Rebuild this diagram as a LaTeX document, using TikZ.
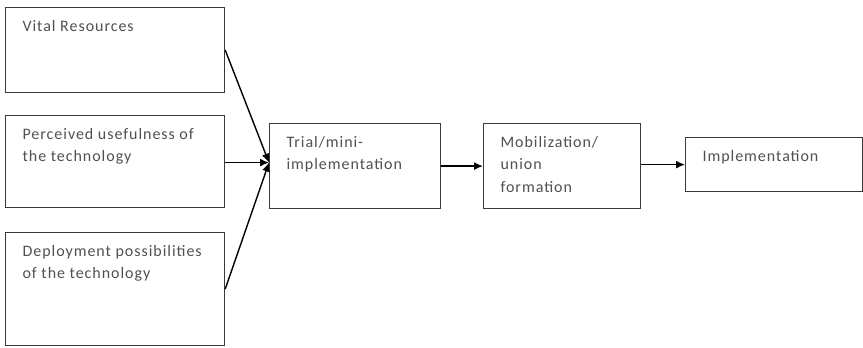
\documentclass[tikz,border=0pt]{standalone}
\usepackage{fontspec}
\setmainfont{Carlito}[LetterSpace=6]
\usetikzlibrary{arrows.meta}
\definecolor{txtgray}{HTML}{505050}
\definecolor{boxline}{HTML}{3A3A3A}
\newcommand{\boxtxt}[3]{\parbox[t][#2][t]{#1}{\raggedright\rule{0pt}{23.5pt}#3}}
\begin{document}
\begin{tikzpicture}[x=1pt,y=-1pt,
  box/.style={draw=boxline, line width=1.2pt, inner xsep=17pt, inner ysep=0pt,
    anchor=north west, font=\fontsize{16}{22.5}\selectfont, text=txtgray},
  arr/.style={draw=black, line width=1.4pt, -{Latex[length=9pt,width=8pt]}}]
\useasboundingbox (0,0) rectangle (863,348);
\node[box] (b1) at (5,7) {\boxtxt{185pt}{85pt}{Vital Resources}};
\node[box] (b2) at (5,115) {\boxtxt{185pt}{92pt}{Perceived usefulness of\\the technology}};
\node[box] (b3) at (5,232) {\boxtxt{185pt}{113pt}{Deployment possibilities\\of the technology}};
\node[box] (trial) at (269,123) {\boxtxt{137pt}{85pt}{Trial/mini-\\implementation}};
\node[box] (mob) at (483,123) {\boxtxt{123pt}{85pt}{Mobilization/\\union\\formation}};
\node[box] (impl) at (685,137) {\boxtxt{143pt}{54pt}{Implementation}};
\coordinate (in) at ([yshift=3.5pt]trial.west);
\draw[arr] (b1.east) -- (in);
\draw[arr] (b2.east |- in) -- (in);
\draw[arr] (b3.east) -- (in);
\draw[arr] (trial.east) -- (mob.west);
\draw[arr] (mob.east |- impl.west) -- (impl.west);
\end{tikzpicture}
\end{document}
